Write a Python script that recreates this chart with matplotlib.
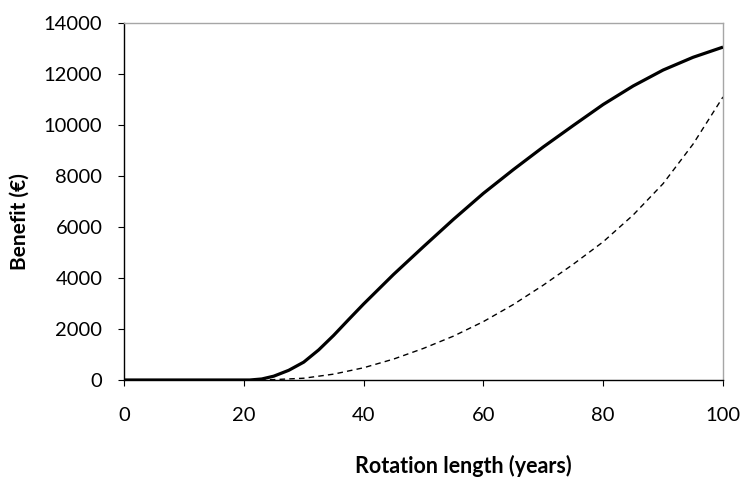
import matplotlib
matplotlib.use('Agg')
import matplotlib.pyplot as plt

# rotation length (years)
years_solid = [0, 5, 10, 15, 20, 21, 23, 25, 27.5, 30, 32.5, 35, 37.5, 40, 45, 50,
               55, 60, 65, 70, 75, 80, 85, 90, 95, 100]
benefit_solid = [0, 0, 0, 0, 0, 0, 40, 150, 380, 700, 1180, 1750, 2370, 2980, 4140,
                 5230, 6300, 7320, 8250, 9140, 9980, 10805, 11530, 12155, 12655, 13055]

years_dashed = [0, 5, 10, 15, 20, 22, 25, 30, 35, 40, 45, 50, 55, 60, 65, 70,
                75, 80, 85, 90, 95, 100]
benefit_dashed = [0, 0, 0, 0, 0, 0, 15, 70, 230, 480, 820, 1240, 1720, 2290,
                  2960, 3720, 4540, 5420, 6470, 7700, 9250, 11100]

x_ticks = [0, 20, 40, 60, 80, 100]
y_ticks = [0, 2000, 4000, 6000, 8000, 10000, 12000, 14000]

plt.rcParams['font.family'] = ['Lato', 'DejaVu Sans']

fig = plt.figure(figsize=(7.43, 4.78), dpi=100)
ax = fig.add_axes([124 / 743, 1 - 380 / 478, 599 / 743, 357 / 478])

ax.plot(years_dashed, benefit_dashed, color='black', lw=1.0, dashes=(4, 3), zorder=2)
ax.plot(years_solid, benefit_solid, color='black', lw=2.3, solid_capstyle='butt',
        solid_joinstyle='round', zorder=3)

ax.set_xlim(0, 100)
ax.set_ylim(0, 14000)
ax.set_xticks(x_ticks)
ax.set_yticks(y_ticks)
ax.tick_params(axis='both', direction='out', length=4.5, width=0.8, labelsize=14.5,
               color='black')
ax.tick_params(axis='x', pad=15)
ax.tick_params(axis='y', pad=11)

for s in ['left', 'bottom']:
    ax.spines[s].set_color('black')
    ax.spines[s].set_linewidth(1.0)
for s in ['top', 'right']:
    ax.spines[s].set_color('#a6a6a6')
    ax.spines[s].set_linewidth(1.0)

fig.text(463 / 743, 1 - 466 / 478, 'Rotation length (years)', ha='center', va='center',
         fontsize=15.5, fontweight='bold')
fig.text(20 / 743, 1 - 222 / 478, 'Benefit (€)', ha='center', va='center', rotation=90,
         fontsize=15, fontweight='bold')

fig.savefig('out.png', dpi=100)
